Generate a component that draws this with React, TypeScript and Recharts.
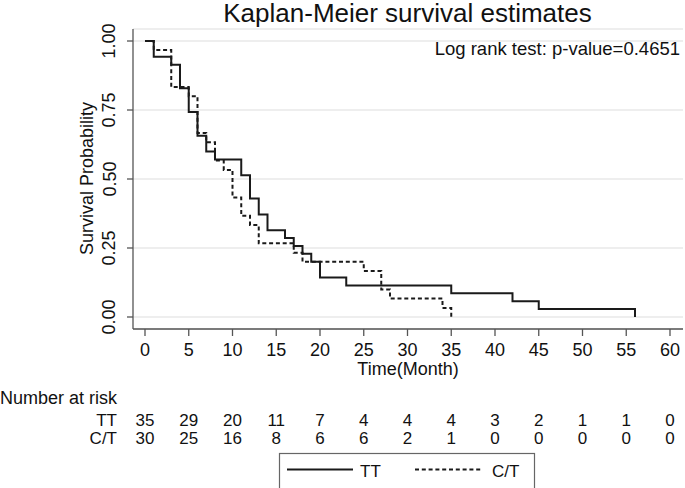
import { LineChart, Line, XAxis, YAxis, CartesianGrid } from 'recharts';

// Kaplan-Meier step points (time in months, survival probability)
const TT_TIME = [0, 1, 3, 4, 5, 6, 7, 8, 11, 12, 13, 14, 16, 17, 18, 19, 20, 23, 35, 42, 45, 56];
const TT_SURV = [1, 0.943, 0.914, 0.829, 0.743, 0.657, 0.6, 0.571, 0.514, 0.429, 0.371, 0.314, 0.286, 0.257, 0.229, 0.2, 0.143, 0.114, 0.086, 0.057, 0.029, 0];
const CT_TIME = [0, 1, 3, 5, 6, 7, 8, 9, 10, 11, 12, 13, 17, 18, 25, 27, 28, 34, 35];
const CT_SURV = [1, 0.967, 0.833, 0.8, 0.667, 0.633, 0.567, 0.533, 0.433, 0.367, 0.333, 0.267, 0.233, 0.2, 0.167, 0.1, 0.067, 0.033, 0];

// number at risk table
const RISK_TIMES = [0, 5, 10, 15, 20, 25, 30, 35, 40, 45, 50, 55, 60];
const TT_RISK = [35, 29, 20, 11, 7, 4, 4, 4, 3, 2, 1, 1, 0];
const CT_RISK = [30, 25, 16, 8, 6, 6, 2, 1, 0, 0, 0, 0, 0];

const Y_TICKS = [0, 0.25, 0.5, 0.75, 1];

const ttData = TT_TIME.map((t, i) => ({ t, s: TT_SURV[i] }));
const ctData = CT_TIME.map((t, i) => ({ t, s: CT_SURV[i] }));

const FONT = 'Liberation Sans, Arial, sans-serif';
const INK = '#1a1a1a';

const XTick = (props: any) => {
  const { x, payload } = props;
  const i = RISK_TIMES.indexOf(payload.value);
  return (
    <g fontFamily={FONT} fill="#111">
      <text x={x} y={356} textAnchor="middle" fontSize={18}>{payload.value}</text>
      <text x={x} y={426} textAnchor="middle" fontSize={17}>{TT_RISK[i]}</text>
      <text x={x} y={444} textAnchor="middle" fontSize={17}>{CT_RISK[i]}</text>
    </g>
  );
};

const YTick = (props: any) => {
  const { y, payload } = props;
  return (
    <text
      x={115.5}
      y={y}
      transform={`rotate(-90 115.5 ${y})`}
      textAnchor="middle"
      fontSize={18}
      fontFamily={FONT}
      fill="#111"
    >
      {payload.value.toFixed(2)}
    </text>
  );
};

export default function App() {
  return (
    <div style={{ position: 'absolute', left: 0, top: 0, width: 685, height: 488, background: '#fff' }}>
      <LineChart width={685} height={488} margin={{ top: 29, right: 2, left: 93, bottom: 129 }}>
        <CartesianGrid vertical={false} stroke="#e8e8e8" strokeWidth={1.5} />
        <XAxis
          type="number"
          dataKey="t"
          domain={[-1.371, 61.486]}
          allowDataOverflow
          ticks={RISK_TIMES}
          interval={0}
          height={30}
          tickSize={7}
          stroke="#555"
          strokeWidth={1.3}
          tick={<XTick />}
        />
        <YAxis
          type="number"
          domain={[-0.0435, 1.0435]}
          allowDataOverflow
          ticks={Y_TICKS}
          interval={0}
          width={40}
          tickSize={6}
          stroke="#555"
          strokeWidth={1.3}
          tick={<YTick />}
        />
        <Line
          data={ttData}
          dataKey="s"
          type="stepAfter"
          stroke={INK}
          strokeWidth={2}
          dot={false}
          activeDot={false}
          isAnimationActive={false}
        />
        <Line
          data={ctData}
          dataKey="s"
          type="stepAfter"
          stroke={INK}
          strokeWidth={2}
          strokeDasharray="4 2.8"
          dot={false}
          activeDot={false}
          isAnimationActive={false}
        />
      </LineChart>
      <svg
        width={685}
        height={488}
        style={{ position: 'absolute', left: 0, top: 0, pointerEvents: 'none' }}
        fontFamily={FONT}
      >
        <text x={407.5} y={21.5} textAnchor="middle" fontSize={26} fill="#111">
          Kaplan-Meier survival estimates
        </text>
        <text x={680} y={55} textAnchor="end" fontSize={18.5} fill="#111">
          Log rank test: p-value=0.4651
        </text>
        <text
          x={93}
          y={178.5}
          transform="rotate(-90 93 178.5)"
          textAnchor="middle"
          fontSize={18}
          fill="#111"
        >
          Survival Probability
        </text>
        <text x={408} y={375} textAnchor="middle" fontSize={18} fill="#111">Time(Month)</text>
        <text x={0} y={404} fontSize={18} fill="#111">Number at risk</text>
        <text x={117} y={426} textAnchor="end" fontSize={17} fill="#111">TT</text>
        <text x={117} y={444} textAnchor="end" fontSize={17} fill="#111">C/T</text>
        <rect x={279.5} y={453.5} width={255} height={40} fill="#fff" stroke="#666" strokeWidth={1.2} />
        <line x1={287} y1={469.5} x2={353} y2={469.5} stroke={INK} strokeWidth={2} />
        <text x={360} y={477} fontSize={17} fill="#111">TT</text>
        <line x1={415} y1={469.5} x2={483} y2={469.5} stroke={INK} strokeWidth={2} strokeDasharray="4 2.8" />
        <text x={492} y={477} fontSize={17} fill="#111">C/T</text>
      </svg>
    </div>
  );
}
